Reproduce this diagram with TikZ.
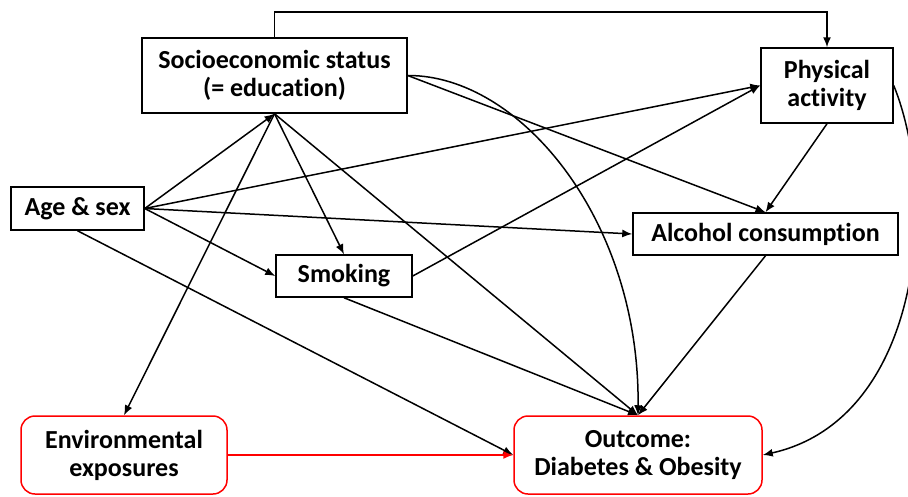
\documentclass[tikz,border=0pt]{standalone}
\usepackage{fontspec}
\setmainfont{Carlito}[Ligatures={NoCommon}]
\usetikzlibrary{arrows.meta}
\begin{document}
\begin{tikzpicture}[x=1pt,y=-1pt,
  box/.style={draw=black,line width=1.5pt,fill=white,align=center,inner sep=0pt,
    font=\fontsize{26}{28}\selectfont\bfseries},
  redbox/.style={box,draw=red,rounded corners=14pt},
  arr/.style={line width=1.5pt,-{Latex[length=10pt,width=8pt]}},
  redarr/.style={arr,draw=red}]
\useasboundingbox (0,0) rectangle (908,496);
\node[box,minimum width=265pt,minimum height=75pt] (ses) at (274.5,75.5) {Socioeconomic status\\(= education)};
\node[box,minimum width=132pt,minimum height=75pt] (pa) at (827,85.5) {Physical\\activity};
\node[box,minimum width=133pt,minimum height=43pt] (age) at (77.5,208.5) {Age \& sex};
\node[box,minimum width=136pt,minimum height=42pt] (smk) at (344,276) {Smoking};
\node[box,minimum width=265pt,minimum height=42pt] (alc) at (765.5,234) {Alcohol consumption};
\node[redbox,minimum width=248pt,minimum height=78pt] (out) at (638,455) {Outcome:\\Diabetes \& Obesity};
\node[redbox,minimum width=206pt,minimum height=78pt] (env) at (124,455) {Environmental\\exposures};
\coordinate (toprow) at (0,12);
% connectors
\draw[arr] (ses.north) -- (ses.north |- toprow) -| (pa.north);
\draw[arr] (age.east) -- (ses.south);
\draw[arr] (age.east) -- (pa.west);
\draw[arr] (age.east) -- (alc.west);
\draw[arr] (age.east) -- (smk.west);
\draw[arr] (age.south) -- (out.west);
\draw[arr] (ses.south) -- (env.north);
\draw[arr] (ses.south) -- (smk.north);
\draw[arr] (ses.south) -- (out.north);
\draw[arr] (ses.east) -- (alc.north);
\draw[arr] (ses.east) .. controls (520,75) and (640,220) .. (out.north);
\draw[arr] (smk.east) -- (pa.west);
\draw[arr] (smk.south) -- (out.north);
\draw[arr] (pa.south) -- (alc.north);
\draw[arr] (alc.south) -- (out.north);
\draw[arr] (pa.east) .. controls (940,200) and (920,420) .. (out.east);
\draw[redarr] (env.east) -- (out.west);
\end{tikzpicture}
\end{document}
